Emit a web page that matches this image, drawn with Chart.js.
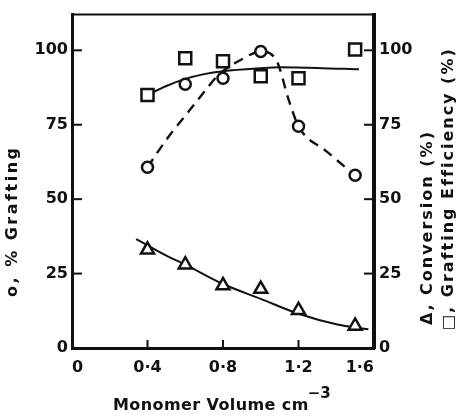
<!DOCTYPE html>
<html lang="en">
<head>
  <meta charset="UTF-8" />
  <title>Grafting vs Monomer Volume</title>
  <script src="https://cdn.jsdelivr.net/npm/chart.js"></script>
  <style>
    body { margin: 0; background: #fff; }
    #wrap { width: 460px; height: 416px; position: relative; }
  </style>
</head>
<body>
  <div id="wrap"><canvas id="chart"></canvas></div>

  <script>
    // Data
    const volume = [0.4, 0.6, 0.8, 1.0, 1.2, 1.5];
    const grafting = [60.7, 88.6, 90.6, 99.6, 74.5, 58];      // circles
    const efficiency = [85, 97.3, 96.3, 91.3, 90.6, 100.3];   // squares
    const conversion = [33, 28, 21, 19.8, 12.7, 7.4];         // triangles

    // hand-drawn curves, read at a few points
    const graftCurveX = [0.4, 0.5, 0.6, 0.7, 0.78, 0.9, 1.0, 1.08, 1.15, 1.2, 1.35, 1.5];
    const graftCurveY = [60.7, 70, 78, 86, 92, 97, 99.6, 97, 83, 74.5, 66, 58];
    const effCurveX = [0.4, 0.5, 0.6, 0.7, 0.8, 1.0, 1.1, 1.3, 1.52];
    const effCurveY = [85, 88, 90.4, 92, 93, 94, 94.3, 94.1, 93.6];
    const convCurveX = [0.34, 0.5, 0.6, 0.8, 1.0, 1.2, 1.4, 1.57];
    const convCurveY = [36.6, 31, 28, 21.5, 16.5, 11.5, 8, 6.3];

    const xTicks = [0, 0.4, 0.8, 1.2, 1.6];
    const xTickLabels = ['0', '0·4', '0·8', '1·2', '1·6'];
    const yTicks = [0, 25, 50, 75, 100];

    const pts = (xs, ys) => xs.map((x, i) => ({ x: x, y: ys[i] }));
    const ink = '#111';
    const tickFont = { family: 'DejaVu Sans', weight: 'bold', size: 16 };

    // inward tick marks, top frame line and the axis titles
    const decor = {
      id: 'decor',
      afterDraw(chart) {
        const ctx = chart.ctx;
        const a = chart.chartArea;
        const s = chart.scales;
        ctx.save();
        ctx.strokeStyle = ink;
        ctx.lineWidth = 2;
        s.x.ticks.forEach(t => {
          const px = s.x.getPixelForValue(t.value);
          ctx.beginPath(); ctx.moveTo(px, a.bottom); ctx.lineTo(px, a.bottom - 8); ctx.stroke();
        });
        s.y.ticks.forEach(t => {
          const py = s.y.getPixelForValue(t.value);
          ctx.beginPath(); ctx.moveTo(a.left, py); ctx.lineTo(a.left + 10, py); ctx.stroke();
        });
        s.y2.ticks.forEach(t => {
          const py = s.y2.getPixelForValue(t.value);
          ctx.beginPath(); ctx.moveTo(a.right, py); ctx.lineTo(a.right - 10, py); ctx.stroke();
        });
        ctx.beginPath(); ctx.moveTo(a.left, a.top); ctx.lineTo(a.right, a.top); ctx.stroke();

        ctx.fillStyle = ink;
        ctx.font = 'bold 16px "DejaVu Sans"';
        ctx.textAlign = 'left';
        ctx.textBaseline = 'middle';
        const vtext = (txt, x, y, sp) => {
          ctx.save();
          ctx.translate(x, y);
          ctx.rotate(-Math.PI / 2);
          ctx.letterSpacing = sp + 'px';
          ctx.fillText(txt, 0, 0);
          ctx.restore();
        };
        vtext('o, % Grafting', 13, 297, 2.5);
        vtext('Δ, Conversion (%)', 428, 325, 2);
        vtext('□, Grafting Efficiency (%)', 449, 330, 2);

        ctx.textBaseline = 'alphabetic';
        ctx.letterSpacing = '0.4px';
        const title = 'Monomer Volume cm';
        ctx.fillText(title, 113, 410);
        const w = ctx.measureText(title).width;
        ctx.font = 'bold 15px "DejaVu Sans"';
        ctx.letterSpacing = '0px';
        ctx.fillText('−3', 113 + w - 1, 398);
        ctx.restore();
      }
    };

    new Chart(document.getElementById('chart'), {
      type: 'scatter',
      data: {
        datasets: [
          {
            data: pts(volume, grafting),
            pointStyle: 'circle', pointRadius: 5.5,
            borderColor: ink, backgroundColor: '#fff', pointBorderWidth: 2.5,
            showLine: false
          },
          {
            data: pts(volume, efficiency),
            pointStyle: 'rect', pointRadius: 8.5,
            borderColor: ink, backgroundColor: '#fff', pointBorderWidth: 2.5,
            showLine: false
          },
          {
            data: pts(volume, conversion),
            pointStyle: 'triangle', pointRadius: 7.5,
            borderColor: ink, backgroundColor: '#fff', pointBorderWidth: 2.5,
            showLine: false
          },
          {
            data: pts(graftCurveX, graftCurveY),
            showLine: true, pointRadius: 0,
            borderColor: ink, borderWidth: 2.4, borderDash: [10, 7],
            cubicInterpolationMode: 'monotone'
          },
          {
            data: pts(effCurveX, effCurveY),
            showLine: true, pointRadius: 0,
            borderColor: ink, borderWidth: 2,
            cubicInterpolationMode: 'monotone'
          },
          {
            data: pts(convCurveX, convCurveY),
            showLine: true, pointRadius: 0,
            borderColor: ink, borderWidth: 2,
            cubicInterpolationMode: 'monotone'
          }
        ]
      },
      options: {
        responsive: true,
        maintainAspectRatio: false,
        animation: false,
        layout: { padding: { top: 12, left: 0, right: 0, bottom: 0 } },
        plugins: { legend: { display: false }, tooltip: { enabled: false } },
        scales: {
          x: {
            type: 'linear', min: 0, max: 1.6,
            afterBuildTicks: sc => { sc.ticks = xTicks.map(v => ({ value: v })); },
            afterFit: sc => { sc.height = 68; },
            grid: { display: false, drawTicks: false },
            border: { display: true, width: 3, color: ink },
            ticks: {
              align: 'inner', padding: 10, color: ink, font: tickFont,
              callback: (v, i) => xTickLabels[i]
            }
          },
          y: {
            position: 'left', min: 0, max: 112,
            afterBuildTicks: sc => { sc.ticks = yTicks.map(v => ({ value: v })); },
            afterFit: sc => { sc.width = 72; },
            grid: { display: false, drawTicks: false },
            border: { display: true, width: 3, color: ink },
            ticks: { padding: 4, color: ink, font: tickFont }
          },
          y2: {
            position: 'right', min: 0, max: 112,
            afterBuildTicks: sc => { sc.ticks = yTicks.map(v => ({ value: v })); },
            afterFit: sc => { sc.width = 86; },
            grid: { display: false, drawTicks: false },
            border: { display: true, width: 4, color: ink },
            ticks: { padding: 5, color: ink, font: tickFont }
          }
        }
      },
      plugins: [decor]
    });
  </script>
</body>
</html>
